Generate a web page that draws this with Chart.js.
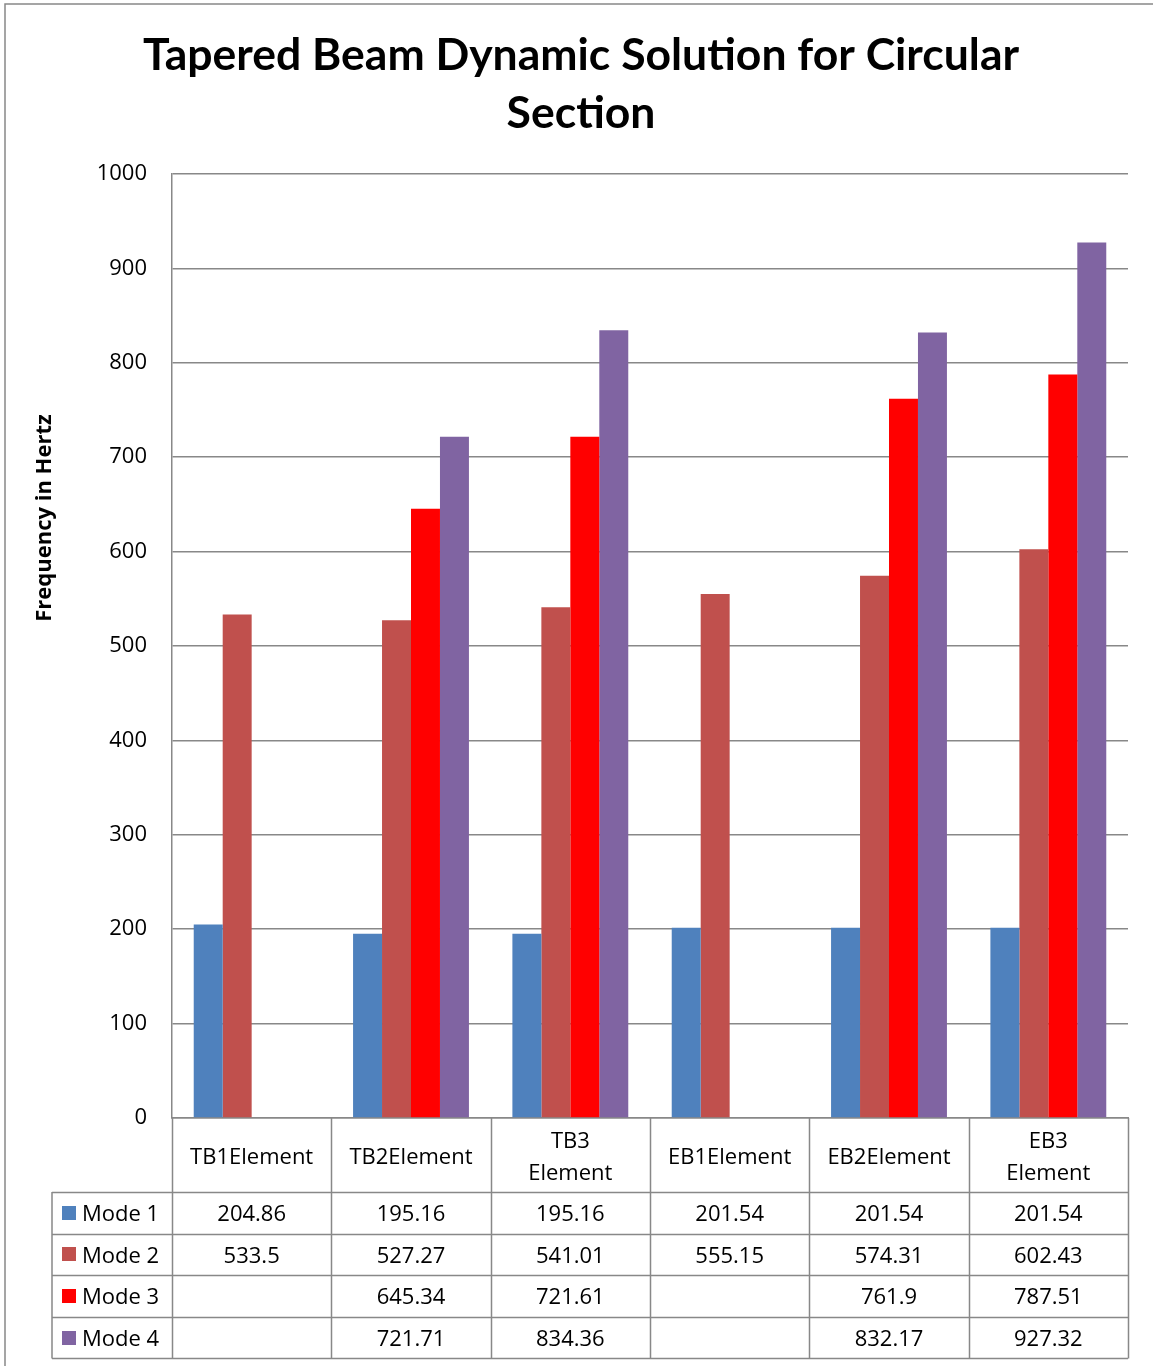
<!DOCTYPE html>
<html>
<head>
<meta charset="utf-8">
<script src="https://cdn.jsdelivr.net/npm/chart.js@4.4.1/dist/chart.umd.min.js"></script>
<style>
    html, body { margin: 0; padding: 0; background: #fff; }
    canvas { display: block; }
</style>
</head>
<body>
<canvas id="beam-chart" width="1153" height="1366"></canvas>
<script>
// chart data
const categories = [['TB1Element'], ['TB2Element'], ['TB3', 'Element'], ['EB1Element'], ['EB2Element'], ['EB3', 'Element']]
const seriesNames = ['Mode 1', 'Mode 2', 'Mode 3', 'Mode 4']
const mode1 = [204.86, 195.16, 195.16, 201.54, 201.54, 201.54]
const mode2 = [533.5, 527.27, 541.01, 555.15, 574.31, 602.43]
const mode3 = [null, 645.34, 721.61, null, 761.9, 787.51]
const mode4 = [null, 721.71, 834.36, null, 832.17, 927.32]
const seriesColors = ['#4F81BD', '#C0504D', '#FF0000', '#8064A2']
const yMin = 0
const yMax = 1000
const yStep = 100

const titleLines = ['Tapered Beam Dynamic Solution for Circular', 'Section']
const yAxisTitle = 'Frequency in Hertz'

const lineColor = '#888888'
const textFont = '22px "Open Sans"'

let seriesValues = [mode1, mode2, mode3, mode4]

// border, titles and the data table under the plot
const decorations = {
    id: 'decorations',
    afterDraw(chart) {
        let ctx = chart.ctx
        let area = chart.chartArea
        let x = chart.scales.x
        let step = x.getPixelForValue(1) - x.getPixelForValue(0)

        ctx.save()

        // outer frame
        ctx.strokeStyle = lineColor
        ctx.lineWidth = 1.5
        ctx.beginPath()
        ctx.moveTo(5, chart.height + 5)
        ctx.lineTo(5, 4)
        ctx.lineTo(chart.width + 5, 4)
        ctx.stroke()

        // title
        ctx.fillStyle = '#000'
        ctx.textAlign = 'center'
        ctx.textBaseline = 'alphabetic'
        ctx.font = 'bold 44.5px Lato'
        ctx.fillText(titleLines[0], 581, 70)
        ctx.fillText(titleLines[1], 581, 128)

        // y axis title
        ctx.save()
        ctx.translate(51, 518)
        ctx.rotate(-Math.PI / 2)
        ctx.font = 'bold 22px "Open Sans"'
        ctx.fillText(yAxisTitle, 0, 0)
        ctx.restore()

        // table
        let headTop = area.bottom
        let headBottom = headTop + 74
        let rowH = 41.6
        let legendLeft = 52
        let tableBottom = headBottom + rowH * seriesNames.length

        ctx.strokeStyle = lineColor
        ctx.lineWidth = 1.5
        ctx.beginPath()
        for (let i = 0; i <= categories.length; i++) {
            let px = Math.round(area.left + step * i) + 0.5
            ctx.moveTo(px, headTop)
            ctx.lineTo(px, tableBottom)
        }
        ctx.moveTo(legendLeft, headBottom)
        ctx.lineTo(legendLeft, tableBottom)
        for (let r = 0; r <= seriesNames.length; r++) {
            let py = Math.round(headBottom + rowH * r) + 0.5
            ctx.moveTo(legendLeft, py)
            ctx.lineTo(area.right, py)
        }
        ctx.stroke()

        ctx.font = textFont
        ctx.textBaseline = 'middle'
        ctx.textAlign = 'center'
        for (let i = 0; i < categories.length; i++) {
            let cx = x.getPixelForValue(i)
            let lines = categories[i]
            let mid = (headTop + headBottom) / 2 + 2.5
            lines.forEach(function (line, k) {
                ctx.fillText(line, cx, mid + (k - (lines.length - 1) / 2) * 32)
            })
        }

        for (let r = 0; r < seriesNames.length; r++) {
            let cy = headBottom + rowH * r + rowH / 2
            ctx.fillStyle = seriesColors[r]
            ctx.fillRect(62, Math.round(cy - 7), 14, 14)
            ctx.fillStyle = '#000'
            ctx.textAlign = 'left'
            ctx.fillText(seriesNames[r], 82, cy + 2)
            ctx.textAlign = 'center'
            for (let i = 0; i < categories.length; i++) {
                let v = seriesValues[r][i]
                if (v === null) continue
                ctx.fillText(String(v), x.getPixelForValue(i), cy + 2)
            }
        }

        ctx.restore()
    }
}

let datasets = seriesNames.map(function (name, i) {
    return {
        label: name,
        data: seriesValues[i],
        backgroundColor: seriesColors[i],
        borderWidth: 0,
        categoryPercentage: 4 / 5.5,
        barPercentage: 1
    }
})

let beamChart = new Chart(document.getElementById('beam-chart'), {
    type: 'bar',
    data: {
        labels: categories,
        datasets: datasets
    },
    options: {
        responsive: false,
        animation: false,
        devicePixelRatio: 1,
        layout: {
            padding: { top: 174, right: 25, bottom: 0, left: 0 }
        },
        plugins: {
            legend: { display: false },
            title: { display: false },
            tooltip: { enabled: false }
        },
        scales: {
            x: {
                grid: { display: false },
                border: { color: lineColor, width: 1.5 },
                ticks: { display: false },
                afterFit: function (scale) { scale.height = 248 }
            },
            y: {
                min: yMin,
                max: yMax,
                ticks: {
                    stepSize: yStep,
                    padding: 25,
                    color: '#000',
                    font: { family: 'Open Sans', size: 22 },
                    callback: function (value) { return String(value) }
                },
                grid: { color: lineColor, lineWidth: 1.5, drawTicks: false },
                border: { color: lineColor, width: 1.5 },
                afterFit: function (scale) { scale.width = 172 }
            }
        }
    },
    plugins: [decorations]
})
</script>
</body>
</html>
